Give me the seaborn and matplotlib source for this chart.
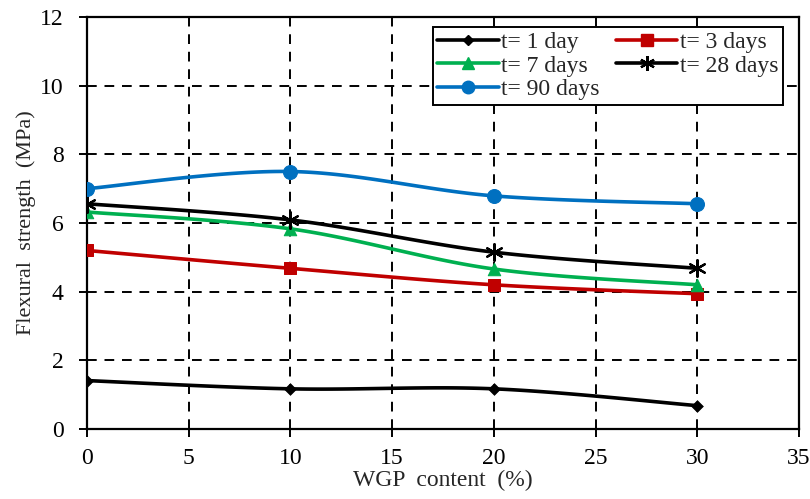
import numpy as np
import pandas as pd
import matplotlib
matplotlib.use("Agg")
import matplotlib.pyplot as plt
import seaborn as sns
from matplotlib.lines import Line2D

# ---- data ----
wgp = [0, 10, 20, 30]
series_names = ["t= 1 day", "t= 3 days", "t= 7 days", "t= 28 days", "t= 90 days"]
day1 = [1.41, 1.17, 1.17, 0.68]
day3 = [5.20, 4.68, 4.20, 3.94]
day7 = [6.32, 5.83, 4.66, 4.20]
day28 = [6.56, 6.09, 5.15, 4.68]
day90 = [7.00, 7.50, 6.79, 6.56]
x_ticks = [0, 5, 10, 15, 20, 25, 30, 35]
y_ticks = [0, 2, 4, 6, 8, 10, 12]

values = [day1, day3, day7, day28, day90]
colors = ["#000000", "#C00000", "#00B050", "#000000", "#0070C0"]
markers = ["D", "s", "^", (6, 2, 0), "o"]
msizes = [6, 9, 9, 12, 10]

sns.set_style("white")
plt.rcParams["font.family"] = ["Liberation Serif", "DejaVu Serif"]

fig = plt.figure(figsize=(8.10, 4.99), dpi=100)
ax = fig.add_axes([87 / 810, 70 / 499, 712 / 810, 412 / 499])


def smooth(xs, ys, n=40):
    """Bezier smoothing (like Excel's smoothed line) used only for drawing."""
    xs = np.asarray(xs, float)
    ys = np.asarray(ys, float)
    px = np.concatenate([[xs[0]], xs, [xs[-1]]])
    py = np.concatenate([[ys[0]], ys, [ys[-1]]])
    outx, outy = [], []
    for i in range(1, len(px) - 2):
        p0 = np.array([px[i - 1], py[i - 1]])
        p1 = np.array([px[i], py[i]])
        p2 = np.array([px[i + 1], py[i + 1]])
        p3 = np.array([px[i + 2], py[i + 2]])
        c1 = p1 + (p2 - p0) / 6
        c2 = p2 - (p3 - p1) / 6
        t = np.linspace(0, 1, n)[:, None]
        pts = ((1 - t) ** 3) * p1 + 3 * ((1 - t) ** 2) * t * c1 + 3 * (1 - t) * t ** 2 * c2 + t ** 3 * p2
        outx.extend(pts[:, 0])
        outy.extend(pts[:, 1])
    return outx, outy


handles = []
for name, vals, c, m, ms in zip(series_names, values, colors, markers, msizes):
    sx, sy = smooth(wgp, vals)
    df_line = pd.DataFrame({"x": sx, "y": sy})
    sns.lineplot(data=df_line, x="x", y="y", ax=ax, color=c, linewidth=2.6,
                 sort=False, estimator=None, zorder=3)
    df_pts = pd.DataFrame({"x": wgp, "y": vals})
    mkw = dict(marker=m, s=ms ** 2, color=c, edgecolor=c, zorder=4, legend=False)
    if m == (6, 2, 0):
        mkw["linewidth"] = 1.6
    sns.scatterplot(data=df_pts, x="x", y="y", ax=ax, **mkw)
    handles.append(Line2D([0], [0], color=c, linewidth=2.6, marker=m,
                          markersize=ms * 0.9, markeredgecolor=c,
                          markeredgewidth=1.6 if m == (6, 2, 0) else 1,
                          label=name))

ax.set_xlim(0, 35)
ax.set_ylim(0, 12)
ax.set_xticks(x_ticks)
ax.set_yticks(y_ticks)
ax.grid(True, color="black", linestyle=(0, (5, 4)), linewidth=1.4, zorder=1)
ax.set_axisbelow(True)
for sp in ax.spines.values():
    sp.set_color("black")
    sp.set_linewidth(1.6)
ax.tick_params(axis="both", direction="out", length=6, width=1.4,
               colors="black", labelsize=17, left=True, bottom=True)
ax.tick_params(axis="y", pad=11)
ax.tick_params(axis="x", pad=8)
ax.set_xlabel("WGP  content  (%)", fontsize=17, labelpad=0)
ax.set_ylabel("Flexural  strength  (MPa)", fontsize=16, labelpad=3)

# row-wise legend order (matplotlib fills columns first)
order = [0, 2, 4, 1, 3]
leg = ax.legend(handles=[handles[i] for i in order], ncol=2, loc="upper right",
                bbox_to_anchor=((783 - 87) / 712, (429 - 27) / 412), fontsize=17,
                frameon=True, fancybox=False, edgecolor="black", framealpha=1,
                handlelength=2.6, handletextpad=0.1, columnspacing=0.7,
                labelspacing=0.08, borderpad=0.2, borderaxespad=0)
leg.get_frame().set_linewidth(1.4)
leg.set_zorder(5)

fig.savefig("out.png", dpi=100)
